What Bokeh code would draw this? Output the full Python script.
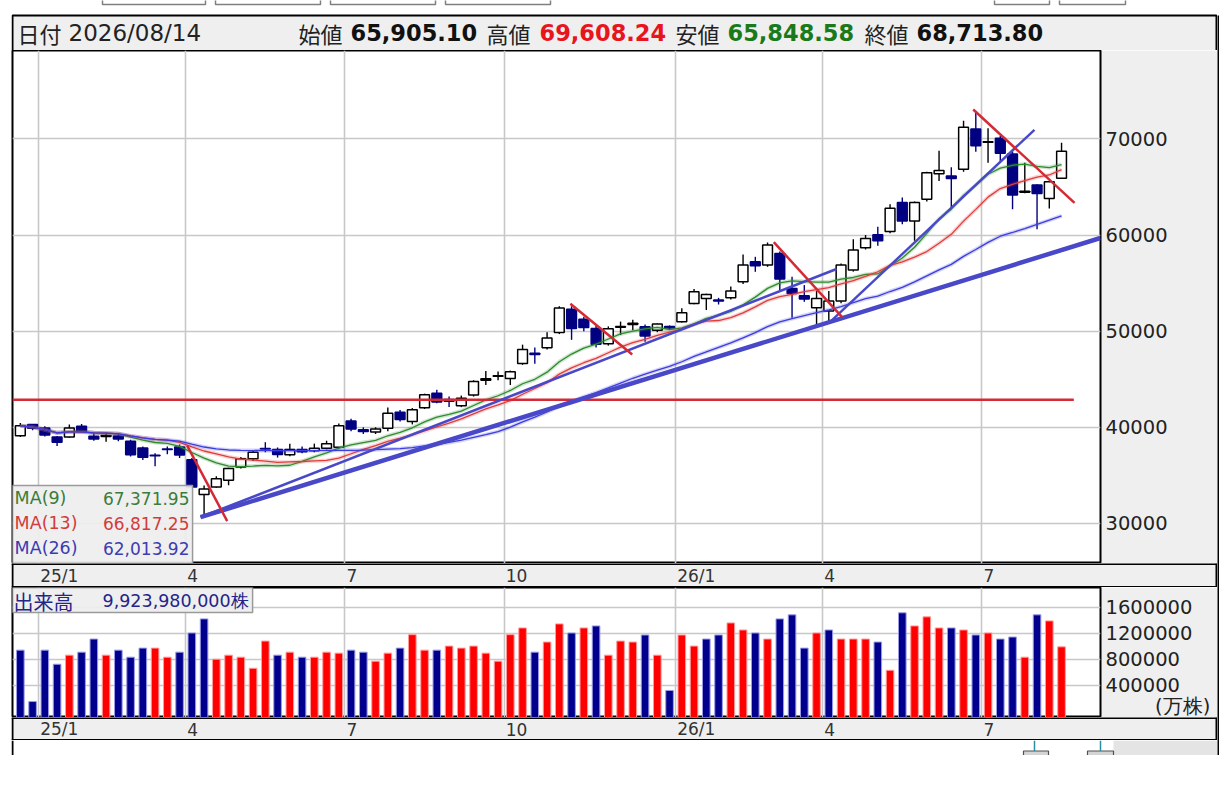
import pandas as pd
from bokeh.plotting import figure
from bokeh.models import Range1d, FixedTicker, BasicTickFormatter, Spacer
from bokeh.models import ColumnDataSource
from bokeh.layouts import column, row
from bokeh.embed import file_html
from bokeh.resources import INLINE
from bokeh.core.properties import value

# ---------------- data (weekly bars, 2024/12/27 .. 2026/08/14) ----------------
opens = [39130, 40280, 39930, 38990, 38990, 40100, 39060, 39050, 39100, 38540,
         37850, 37100, 37750, 37950, 36630, 33000, 33800, 34480, 35860, 36720,
         37800, 37690, 37140, 37700, 37550, 37830, 37930, 40650, 39750, 39500,
         39900, 41560, 40600, 42040, 43530, 42900, 42250, 43360, 44900, 45300,
         45090, 46640, 47700, 48270, 49860, 52280, 51250, 50280, 48700, 50400,
         50700, 50450, 50100, 50500, 50980, 52890, 53410, 53250, 53480, 55140,
         57220, 56880, 58090, 54450, 53680, 52430, 52090, 53130, 56360, 58680,
         60030, 60380, 63380, 61480, 63720, 66380, 66140, 66840, 71040, 69650,
         70070, 68440, 64450, 65210, 63820, 65905.10]
highs = [40450, 40350, 40100, 39100, 40280, 40350, 39400, 39450, 39300, 38700,
         38000, 37300, 38000, 38200, 36800, 33950, 34900, 35800, 36900, 37600,
         38450, 37900, 38300, 38000, 38300, 38600, 40400, 40900, 40000, 40000,
         42050, 41800, 42000, 43500, 43900, 43200, 43300, 44900, 45850, 45800,
         45900, 48600, 48300, 49900, 52600, 52600, 51500, 50600, 50500, 51000,
         51200, 50700, 50800, 50600, 52400, 54400, 53900, 53470, 54650, 57990,
         57740, 59240, 58300, 55660, 54800, 54170, 54170, 57050, 59580, 60000,
         60860, 63210, 63900, 63500, 66600, 68790, 67070, 71910, 72740, 71110,
         70350, 68680, 67540, 65300, 65600, 69608.24]
lows = [38980, 39700, 39050, 38050, 38900, 39400, 38600, 38500, 38550, 36950,
        36600, 35940, 37200, 36800, 33600, 30790, 33700, 33960, 35700, 36500,
        37400, 36850, 37000, 37300, 37400, 37700, 37800, 39600, 39300, 39300,
        39600, 40600, 40300, 41900, 42500, 42100, 42100, 43200, 44400, 44900,
        44400, 46500, 46600, 48100, 49700, 49100, 50000, 48300, 48500, 49600,
        50100, 48900, 49900, 50200, 50900, 52800, 52200, 52780, 53300, 54900,
        56180, 56700, 54100, 51400, 53060, 50630, 50800, 52900, 56200, 58500,
        58900, 60200, 61140, 59410, 63500, 65620, 62860, 66600, 68680, 67540,
        67640, 62680, 64350, 60600, 62780, 65848.58]
closes = [40150, 39900, 39190, 38450, 39930, 39570, 38790, 39150, 38780, 37150,
          36890, 37050, 37680, 37120, 33780, 33590, 34650, 35700, 36720, 37410,
          37750, 37160, 37700, 37450, 37830, 38280, 40150, 39810, 39570, 39820,
          41460, 40800, 41820, 43380, 42630, 42720, 43020, 44770, 45045, 45355,
          45770, 48090, 47580, 49300, 52410, 50280, 50380, 48630, 50250, 50490,
          50840, 49510, 50750, 50340, 51920, 54100, 53820, 53130, 54170, 56880,
          56800, 58960, 55420, 53930, 53340, 53400, 53130, 56880, 58440, 59650,
          59420, 62800, 61480, 63380, 66480, 66720, 65900, 71215, 69300, 69720,
          68510, 64170, 64550, 64340, 65560, 68713.80]
# volume in 万株
volumes = [942000, 154000, 942000, 726000, 865000, 911000, 1112000, 865000, 942000, 834000,
           973000, 973000, 834000, 911000, 1205000, 1421000, 803000, 865000, 834000, 664000,
           1081000, 865000, 911000, 834000, 834000, 911000, 896000, 942000, 911000, 772000,
           896000, 973000, 1179000, 942000, 942000, 1004000, 973000, 1004000, 896000, 772000,
           1179000, 1282000, 911000, 1066000, 1344000, 1205000, 1282000, 1313000, 865000, 1081000,
           1066000, 1174000, 865000, 324000, 1174000, 1004000, 1112000, 1174000, 1359000, 1251000,
           1205000, 1112000, 1421000, 1483000, 973000, 1205000, 1251000, 1112000, 1112000, 1112000,
           1066000, 633000, 1514000, 1313000, 1452000, 1282000, 1282000, 1251000, 1174000, 1205000,
           1112000, 1143000, 834000, 1483000, 1390000, 992398]
# r = volume bar red (up), b = volume bar blue (down)
vol_dir = "bbbbrbbrbb" "brrbbbrrrr" "rbrbrrrbbr" "rbrrbrrrrr" "rrbrrbrbrr" \
          "rbrbrrbbrr" "brbbbrbrrr" "brbrrrbrbr" "bbrbrr"

month_ticks = [1.5, 13.5, 26.5, 39.5, 53.5, 65.5, 78.5]
month_labels = ["25/1", "4", "7", "10", "26/1", "4", "7"]
price_ticks = [30000, 40000, 50000, 60000, 70000]
vol_ticks = [400000, 800000, 1200000, 1600000]
vol_unit_label = "(万株)"

ma_periods = [9, 13, 26]
ma_names = ["MA(9)", "MA(13)", "MA(26)"]
ma_values = ["67,371.95", "66,817.25", "62,013.92"]

resist_level = 42860
# trend lines: (x0, y0, x1, y1) in bar index / price
red_lines = [(13.62, 38100, 16.89, 30230), (44.90, 52850, 49.95, 47580),
             (61.51, 59260, 67.09, 51460), (77.79, 73070, 86.06, 63360)]
blue_lines = [(14.71, 30645, 88.18, 59700), (14.71, 30645, 66.63, 56470),
              (66.22, 51110, 82.79, 70960)]
blue_widths = [4.5, 2.6, 2.4]

header_date = "2026/08/14"
header_vals = ["65,905.10", "69,608.24", "65,848.58", "68,713.80"]
header_keys = ["始値", "高値", "安値", "終値"]
vol_total = "9,923,980,000株"

# ---------------- derived ----------------
n = len(closes)
xs = list(range(n))
cser = pd.Series(closes, dtype=float)
mas = [cser.rolling(p, min_periods=1).mean().tolist() for p in ma_periods]

up = [c >= o for o, c in zip(opens, closes)]
NAVY = "#000080"
src = ColumnDataSource(dict(
    x=xs, o=opens, h=highs, l=lows, c=closes,
    top=[max(o, c) for o, c in zip(opens, closes)],
    bot=[min(o, c) for o, c in zip(opens, closes)],
    fill=["white" if u else NAVY for u in up],
    line=["black" if u else NAVY for u in up],
))

GRID = "#c8c8c8"
BAND = "#efefef"
X0 = 11            # page x where the figures start
FW = 1206          # page x 11 .. 1217
LB, RB = 1, 117    # frame: page x 12 .. 1100
XR = (-0.64, 88.18)
PX = 1088 / (XR[1] - XR[0])   # pixels per bar
BXR = (XR[0] - LB / PX, XR[1] + RB / PX)   # full-width range for the date bands
jp = value("Noto Sans CJK JP")
dv = value("DejaVu Sans")


def bare(width, height, xr, yr, bg="white"):
    f = figure(width=width, height=height, x_range=Range1d(*xr), y_range=Range1d(*yr),
               output_backend="svg", toolbar_location=None, x_axis_type=None, y_axis_type=None,
               min_border=0, background_fill_color=bg, border_fill_color=bg,
               outline_line_color=None, frame_align=False)
    f.grid.visible = False
    return f


# ---------------- header (page pixel coordinates) ----------------
hdr = bare(FW, 50, (X0, X0 + FW), (50, 0))
# tool buttons peeking in at the top edge
hdr.quad(left=[102, 215, 330, 445, 994, 1059], right=[205, 320, 435, 550, 1049, 1125],
         top=[-4] * 6, bottom=[4] * 6, fill_color="white", line_color="#808080", line_width=1.5)
hdr.quad(left=[12], right=[1216], top=[15], bottom=[51], fill_color=BAND,
         line_color="black", line_width=2)
hdr.text(x=[17], y=[32], text=["日付"], text_font=jp, text_font_size="22px",
         text_color="#222222", text_baseline="middle")
hdr.text(x=[68], y=[32], text=[header_date], text_font=dv, text_font_size="23px",
         text_color="#222222", text_baseline="middle")
hdr.text(x=[298, 486, 675, 864], y=[32] * 4, text=header_keys, text_font=jp,
         text_font_size="22px", text_color="#222222", text_baseline="middle")
hdr.text(x=[350, 539, 727, 916], y=[32] * 4, text=header_vals,
         text_font=dv, text_font_size="22.5px", text_font_style="bold",
         text_color=["#111111", "#e8141e", "#1a7a1a", "#111111"], text_baseline="middle")


def style_axes(p, yticks, grid_ticks, overrides=None):
    p.yaxis.ticker = FixedTicker(ticks=yticks)
    p.yaxis.formatter = BasicTickFormatter(use_scientific=False)
    if overrides:
        p.yaxis.major_label_overrides = overrides
    p.yaxis.major_label_text_font = "DejaVu Sans"
    p.yaxis.major_label_text_font_size = "19.5px"
    p.yaxis.major_label_text_color = "#222222"
    p.yaxis.major_tick_line_color = None
    p.yaxis.major_tick_out = 0
    p.yaxis.major_tick_in = 0
    p.yaxis.minor_tick_line_color = None
    p.yaxis.axis_line_color = None
    p.yaxis.major_label_standoff = 5
    p.xgrid.ticker = FixedTicker(ticks=month_ticks)
    p.ygrid.ticker = FixedTicker(ticks=grid_ticks)
    p.grid.grid_line_color = GRID
    p.grid.grid_line_width = 1.6


def date_band(height):
    b = bare(FW, height, BXR, (0, 1), bg=BAND)
    b.text(x=[t + 1.5 / PX for t in month_ticks], y=[0.48] * len(month_ticks), text=month_labels,
           text_font=dv, text_font_size="17px", text_color="#333333", text_baseline="middle")
    e0, e1 = XR[0], BXR[1] - 1 / PX
    b.segment(x0=[BXR[0], BXR[0], e0, e1], y0=[1, 0, 0, 0], x1=[BXR[1], BXR[1], e0, e1],
              y1=[1, 0, 1, 1], line_color="black", line_width=[3, 3, 2, 2])
    return b


# ---------------- main price panel ----------------
main = figure(width=FW, height=513, x_range=Range1d(*XR), y_range=Range1d(25827, 79209),
              output_backend="svg", toolbar_location=None, y_axis_location="right",
              x_axis_location=None,
              min_border_left=LB, min_border_right=RB, min_border_top=0, min_border_bottom=0,
              background_fill_color="white", border_fill_color=BAND,
              outline_line_color="black", outline_line_width=2, frame_align=False)
style_axes(main, price_ticks, price_ticks)

# candles
main.segment(x0="x", y0="l", x1="x", y1="h", source=src, line_color="line", line_width=1.4)
main.vbar(x="x", width=0.8, top="top", bottom="bot", source=src,
          fill_color="fill", line_color="line", line_width=1.5)

# moving averages
ma_colors = ["#2e8b2e", "#e03c3c", "#3c3ce0"]
for ma, col in zip(mas, ma_colors):
    main.line(xs, ma, line_color=col, line_width=4, line_alpha=0.22)
    main.line(xs, ma, line_color=col, line_width=1.3)

# resistance line and trend lines
main.segment(x0=[XR[0]], y0=[resist_level], x1=[86.0], y1=[resist_level],
             line_color="#d42a35", line_width=2.5)
main.segment(x0=[b[0] for b in blue_lines], y0=[b[1] for b in blue_lines],
             x1=[b[2] for b in blue_lines], y1=[b[3] for b in blue_lines],
             line_color="#4848c8", line_width=blue_widths)
main.segment(x0=[r[0] for r in red_lines], y0=[r[1] for r in red_lines],
             x1=[r[2] for r in red_lines], y1=[r[3] for r in red_lines],
             line_color="#d42a35", line_width=2.5)

# MA legend box
main.quad(left=[XR[0]], right=[14.06], top=[33944], bottom=[25827],
          fill_color="#eeeeee", fill_alpha=0.92, line_color="#9a9a9a", line_width=1.5)
leg_y = [32591, 29990, 27388]
leg_cols = ["#3a7d3a", "#d23c3c", "#3c3cb4"]
main.text(x=[-0.47] * 3, y=leg_y, text=ma_names, text_font=dv,
          text_font_size="17.5px", text_color=leg_cols, text_baseline="middle")
main.text(x=[13.81] * 3, y=leg_y, text=ma_values, text_font=dv,
          text_font_size="17px", text_color=leg_cols, text_baseline="middle", text_align="right")

band1 = date_band(24)

# ---------------- volume panel ----------------
VB = -90400
vol_unit_pos = 78000
vol = figure(width=FW, height=130, x_range=Range1d(*XR), y_range=Range1d(VB, 1901900),
             output_backend="svg", toolbar_location=None, y_axis_location="right",
             x_axis_location=None,
             min_border_left=LB, min_border_right=RB, min_border_top=0, min_border_bottom=0,
             background_fill_color="white", border_fill_color=BAND,
             outline_line_color="black", outline_line_width=2, frame_align=False)
style_axes(vol, [vol_unit_pos] + vol_ticks, vol_ticks,
           overrides={vol_unit_pos: "\u00a0" * 8 + vol_unit_label})
vsrc = ColumnDataSource(dict(
    x=xs, top=volumes,
    fill=["#ff0000" if d == "r" else "#00008c" for d in vol_dir],
    edge=["#ff9a9a" if d == "r" else "#9a9ae6" for d in vol_dir],
))
vol.vbar(x="x", width=0.62, top="top", bottom=VB, source=vsrc,
         fill_color="fill", line_color="edge", line_width=1)
vol.quad(left=[XR[0]], right=[18.96], top=[1901900], bottom=[1518800],
         fill_color="#eeeeee", fill_alpha=0.92, line_color="#9a9a9a", line_width=1.5)
vol.text(x=[-0.55], y=[1695000], text=["出来高"], text_font=jp, text_font_size="20px",
         text_color="#24248a", text_baseline="middle")
vol.text(x=[6.71], y=[1695000], text=[vol_total], text_font=dv,
         text_font_size="17.5px", text_color="#24248a", text_baseline="middle")

band2 = date_band(23)

# ---------------- bottom strip (page pixel coordinates) ----------------
bot = bare(FW, 15, (X0, X0 + FW), (755, 740))
bot.quad(left=[1113], right=[1217], top=[740], bottom=[755], fill_color="#e4e4e4", line_color=None)
bot.quad(left=[1023, 1087], right=[1048, 1113], top=[750.5, 750.5], bottom=[756, 756],
         fill_color="#d4d4d4", line_color="#505050", line_width=1.2)
bot.segment(x0=[1034, 1100], y0=[740, 740], x1=[1034, 1100], y1=[750.5, 750.5],
            line_color="#2a8fa0", line_width=1.5)
bot.segment(x0=[12], y0=[740], x1=[12], y1=[755], line_color="black", line_width=2)

# right border line of the whole chart
edge = bare(2, 740, (0, 1), (0, 1), bg="black")

layout = row(Spacer(width=X0, height=10),
             column(hdr, main, band1, vol, band2, bot),
             column(Spacer(width=2, height=15), edge))

open("out.html", "w").write(file_html(layout, INLINE))
